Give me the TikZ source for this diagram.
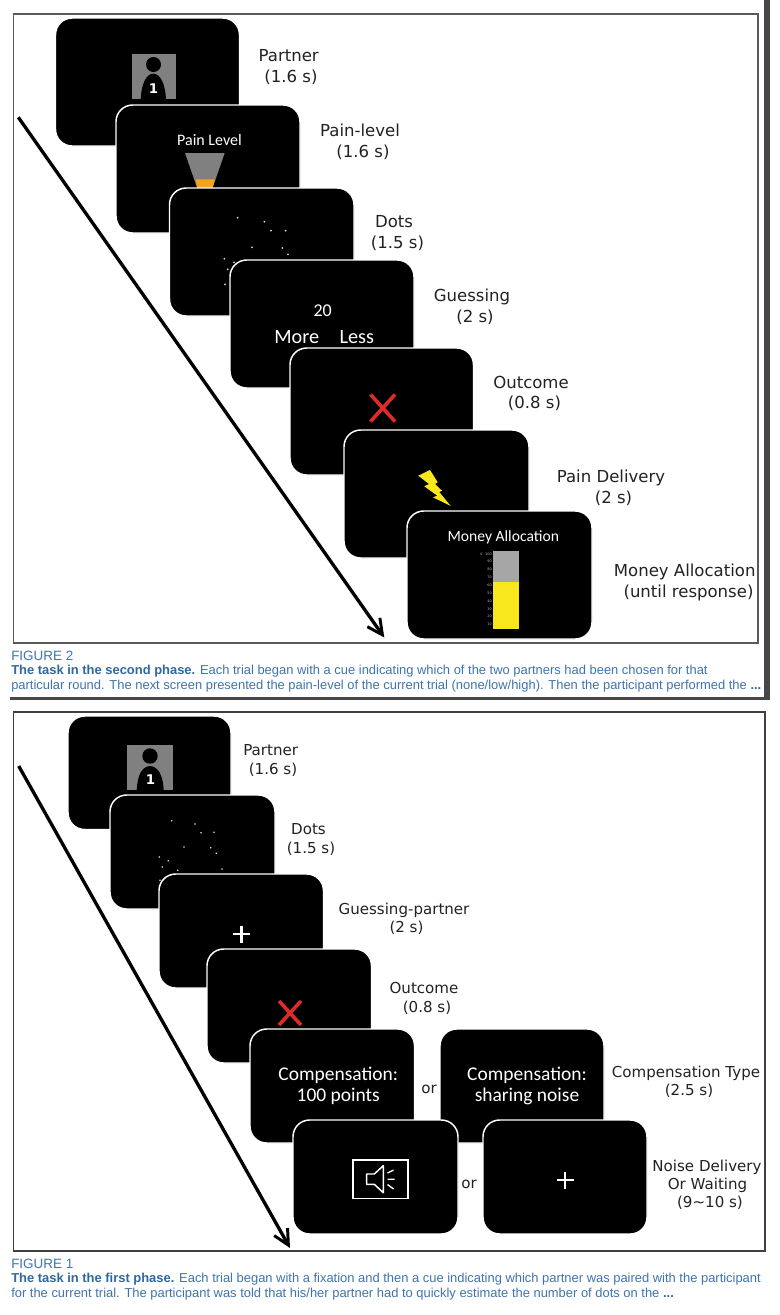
\documentclass[tikz,border=0pt]{standalone}
\usepackage{fontspec}
\setmainfont{DejaVu Sans}
\newfontfamily\capfont{Liberation Sans}
\newfontfamily\scrfont{Carlito}
\usetikzlibrary{arrows.meta}
\definecolor{capblue}{HTML}{3F74AE}
\definecolor{capbold}{HTML}{2F689F}
\definecolor{scrgray}{HTML}{808080}
\definecolor{painor}{HTML}{F5A21E}
\definecolor{xred}{HTML}{DF2A2A}
\definecolor{zap}{HTML}{F8E71C}
\definecolor{barg}{HTML}{A6A6A6}
\definecolor{labcol}{HTML}{222222}
\newcommand\fsz[1]{\fontsize{#1}{#1}\selectfont}
\newcommand\screennode[5]{\node[screen, minimum width={(#4-#2)*0.75pt}, minimum height={(#5-#3)*0.75pt}] (#1) at ({(#2+#4)/2},{(#3+#5)/2}) {};}
\tikzset{
  screen/.style={draw=white, fill=black, line width=1.1pt, rounded corners=12.5pt, inner sep=0pt, outer sep=0pt},
  lab/.style={inner sep=0pt, text=labcol, font=\fsz{12.4}, text height=9pt, text depth=0pt},
  labb/.style={inner sep=0pt, text=labcol, font=\fsz{11.3}, text height=8.2pt, text depth=0pt},
  scrtext/.style={inner sep=0pt, text=white, font=\scrfont\fsz{12}},
  bigtext/.style={inner sep=0pt, text=white, font=\scrfont\fsz{14.6}},
  captext/.style={inner sep=0pt, anchor=west, text=capblue, font=\capfont\fsz{9.7}},
  timearrow/.style={line width=2.5pt, -{Straight Barb[length=11.5pt,width=11.5pt,line width=2.2pt]}},
  smalldot/.style={fill=white!85!black, draw=none},
  crossx/.style={draw=xred, line width=2.7pt},
  plusw/.style={draw=white, line width=2pt},
  frameline/.style={draw=#1, line width=0.8pt},
  ticklab/.style={inner sep=0pt, text=white!70!black, font=\fsz{2.6}}
}
\begin{document}
\begin{tikzpicture}[x=0.75pt,y=-0.75pt]
\path[use as bounding box, fill=white] (0,0) rectangle (780,1315);

% ---------- FIGURE 2 panel ----------
\draw[frameline=black!65] (13.3,14) rectangle (758,643);
\fill[black!72] (764,0) rectangle (770,700);
\fill[black!72] (10,697) rectangle (770,700);

\coordinate (arrowA) at (18.3,117.3);
\coordinate (arrowB) at (384.3,637.5);
\draw[timearrow] (arrowA) -- (arrowB);

% partner
\screennode{s1}{55.5}{18}{239.5}{146}
\fill[scrgray] (131.5,53.5) rectangle (175.5,99);
\fill[black] (153.5,64.5) circle[radius=7.5];
\fill[black] (140.7,99) .. controls (141.5,84) and (146,74) .. (153.3,73.5) .. controls (160.5,74) and (165.2,84) .. (166,99) -- cycle;
\node[inner sep=0pt, text=white, font=\bfseries\fsz{10}] (n1) at (153.5,88.5) {1};
% pain level
\screennode{s2}{116}{105}{300}{233}
\node[scrtext] (t2) at (209.5,139.5) {Pain Level};
\fill[scrgray] (185,153) -- (224.7,153) -- (212.5,188) -- (197.2,188) -- cycle;
\fill[painor] (195.7,179.3) -- (215,179.3) -- (212.5,188) -- (197.2,188) -- cycle;
% dots
\screennode{s3}{169.5}{188}{354}{316}
\foreach \p in {(237.7,217.7),(264.3,221.7),(271,230.7),(285.7,230.7),(252,247.3),(282.3,248),(288,254.3),(224.3,258.7),(234,262.3),(227.7,269.3),(225,284.3)}
  \fill[smalldot] \p circle[radius=1];
% guessing
\screennode{s4}{230}{260}{414}{388}
\node[scrtext] (t4a) at (322.7,310.7) {\fsz{13.5}20};
\node[scrtext] (t4b) at (296.7,337) {\fsz{15.2}More};
\node[scrtext] (t4c) at (356.8,337) {\fsz{15.2}Less};
% outcome
\screennode{s5}{290}{348}{473.5}{475}
\draw[crossx] (370.5,394.5) -- (395,421.5) (395,394.5) -- (370.5,421.5);
% pain delivery
\screennode{s6}{344}{430}{529}{558}
\fill[zap] (430,470) -- (418.3,475.7) -- (429,484) -- (424.3,486.3) -- (437.3,495.7) -- (433,497.3) -- (450.7,506) -- (439.3,492) -- (442,490.7) -- (435,484) -- (437.7,482.3) -- cycle;
% money allocation
\screennode{s7}{407}{511}{592}{639}
\node[scrtext] (t7) at (503.3,537.7) {\fsz{11.7}Money Allocation};
\fill[barg] (493.3,550.7) rectangle (519,582.3);
\fill[zap] (493.3,582.3) rectangle (519,629.3);
\node[ticklab] (d7) at (481.3,554) {\$};
\foreach \v/\y in {100/554,90/561.7,80/569.3,70/577.3,60/585.3,50/593,40/601,30/609,20/616.3,10/624}
  \node[ticklab, anchor=east] (tk\v) at (492,\y) {\v};

% labels
\node[lab] (l1a) at (288.7,55.7) {Partner};
\node[lab] (l1b) at (291,76) {(1.6 s)};
\node[lab] (l2a) at (360,130) {Pain-level};
\node[lab] (l2b) at (363,151) {(1.6 s)};
\node[lab] (l3a) at (394,221) {Dots};
\node[lab] (l3b) at (397.5,242) {(1.5 s)};
\node[lab] (l4a) at (472,295) {Guessing};
\node[lab] (l4b) at (475,316) {(2 s)};
\node[lab] (l5a) at (531,382) {Outcome};
\node[lab] (l5b) at (534.5,402.7) {(0.8 s)};
\node[lab] (l6a) at (611,476) {Pain Delivery};
\node[lab] (l6b) at (613.5,497) {(2 s)};
\node[lab] (l7a) at (684.7,570.5) {Money Allocation};
\node[lab] (l7b) at (688.5,591) {(until response)};

% caption
\node[captext] (c2a) at (11,656) {\fsz{10.1}FIGURE 2};
\node[captext] (c2b) at (11,671) {{\bfseries\color{capbold}The task in the second phase.} Each trial began with a cue indicating which of the two partners had been chosen for that};
\node[captext] (c2c) at (11,686) {particular round. The next screen presented the pain-level of the current trial (none/low/high). Then the participant performed the {\bfseries\color{capbold}...}};

% ---------- FIGURE 1 panel ----------
\draw[frameline=black!75] (13.3,712) rectangle (765,1251);
\coordinate (arrowC) at (18.7,766);
\coordinate (arrowD) at (290,1248);
\draw[timearrow] (arrowC) -- (arrowD);

\screennode{f1}{68}{716}{231}{829.5}
\fill[scrgray] (127,745) rectangle (172.5,790);
\fill[black] (150,756) circle[radius=7.7];
\fill[black] (136.7,790) .. controls (137.5,775) and (142,766.5) .. (150,766) .. controls (158,766.5) and (163,775) .. (163.7,790) -- cycle;
\node[inner sep=0pt, text=white, font=\bfseries\fsz{10}] (m1) at (150.5,780) {1};

\screennode{f2}{110}{795}{275}{909}
\foreach \p in {(171.7,820.7),(195,824),(201,832.7),(214,832.3),(184,847),(210.7,847.7),(216.3,853.3),(159.3,857),(168.3,860.7),(162.3,867),(177.7,870.3),(222,869),(160,880.3)}
  \fill[smalldot] \p circle[radius=0.9];

\screennode{f3}{159}{874}{323.5}{988}
\draw[plusw] (232.8,934) -- (249.8,934) (241.3,925.5) -- (241.3,942.5);

\screennode{f4}{207}{949}{371.5}{1063}
\draw[crossx] (279,1001) -- (301,1025) (301,1001) -- (279,1025);

\screennode{f5a}{250}{1029}{414.5}{1143}
\node[bigtext, align=center] (t5a) at (338.3,1086) {Compensation:\\[1.2pt]100 points};
\screennode{f5b}{440}{1029}{604}{1143}
\node[bigtext, align=center] (t5b) at (527,1086) {Compensation:\\[1.2pt]sharing noise};
\node[labb, text height=6pt] (or1) at (429,1089) {or};

\screennode{f6a}{293}{1120}{458}{1234}
\draw[draw=white, line width=1.3pt] (353,1160) rectangle (408,1198.5);
\draw[draw=white, line width=1.1pt, line join=round] (366.7,1174) -- (374.3,1174) -- (383.3,1165.7) -- (383.3,1192.7) -- (374.3,1184.3) -- (366.7,1184.3) -- cycle;
\draw[draw=white, line width=1pt] (387.5,1173) -- (393.5,1170) (387.5,1179.3) -- (394.5,1179.3) (387.5,1184.5) -- (393.5,1189);
\screennode{f6b}{483}{1120}{647}{1234}
\draw[plusw] (556.5,1180) -- (573.5,1180) (565,1171.5) -- (565,1188.5);
\node[labb, text height=6pt] (or2) at (469,1184) {or};

\node[labb] (k1a) at (270.7,750.5) {Partner};
\node[labb] (k1b) at (273,769) {(1.6 s)};
\node[labb] (k2a) at (308.5,829.5) {Dots};
\node[labb] (k2b) at (311,848) {(1.5 s)};
\node[labb] (k3a) at (404,909) {Guessing-partner};
\node[labb] (k3b) at (406.5,927.5) {(2 s)};
\node[labb] (k4a) at (424,988) {Outcome};
\node[labb] (k4b) at (427,1006.7) {(0.8 s)};
\node[labb] (k5a) at (686,1072) {Compensation Type};
\node[labb] (k5b) at (689,1090.5) {(2.5 s)};
\node[labb] (k6a) at (707,1166) {Noise Delivery};
\node[labb] (k6b) at (707.5,1184) {Or Waiting};
\node[labb] (k6c) at (710,1202) {(9\char126 10 s)};

\node[captext] (c1a) at (11,1264) {\fsz{10.1}FIGURE 1};
\node[captext] (c1b) at (11,1279.5) {{\bfseries\color{capbold}The task in the first phase.} Each trial began with a fixation and then a cue indicating which partner was paired with the participant};
\node[captext] (c1c) at (11,1294.5) {for the current trial. The participant was told that his/her partner had to quickly estimate the number of dots on the {\bfseries\color{capbold}...}};
\end{tikzpicture}
\end{document}
